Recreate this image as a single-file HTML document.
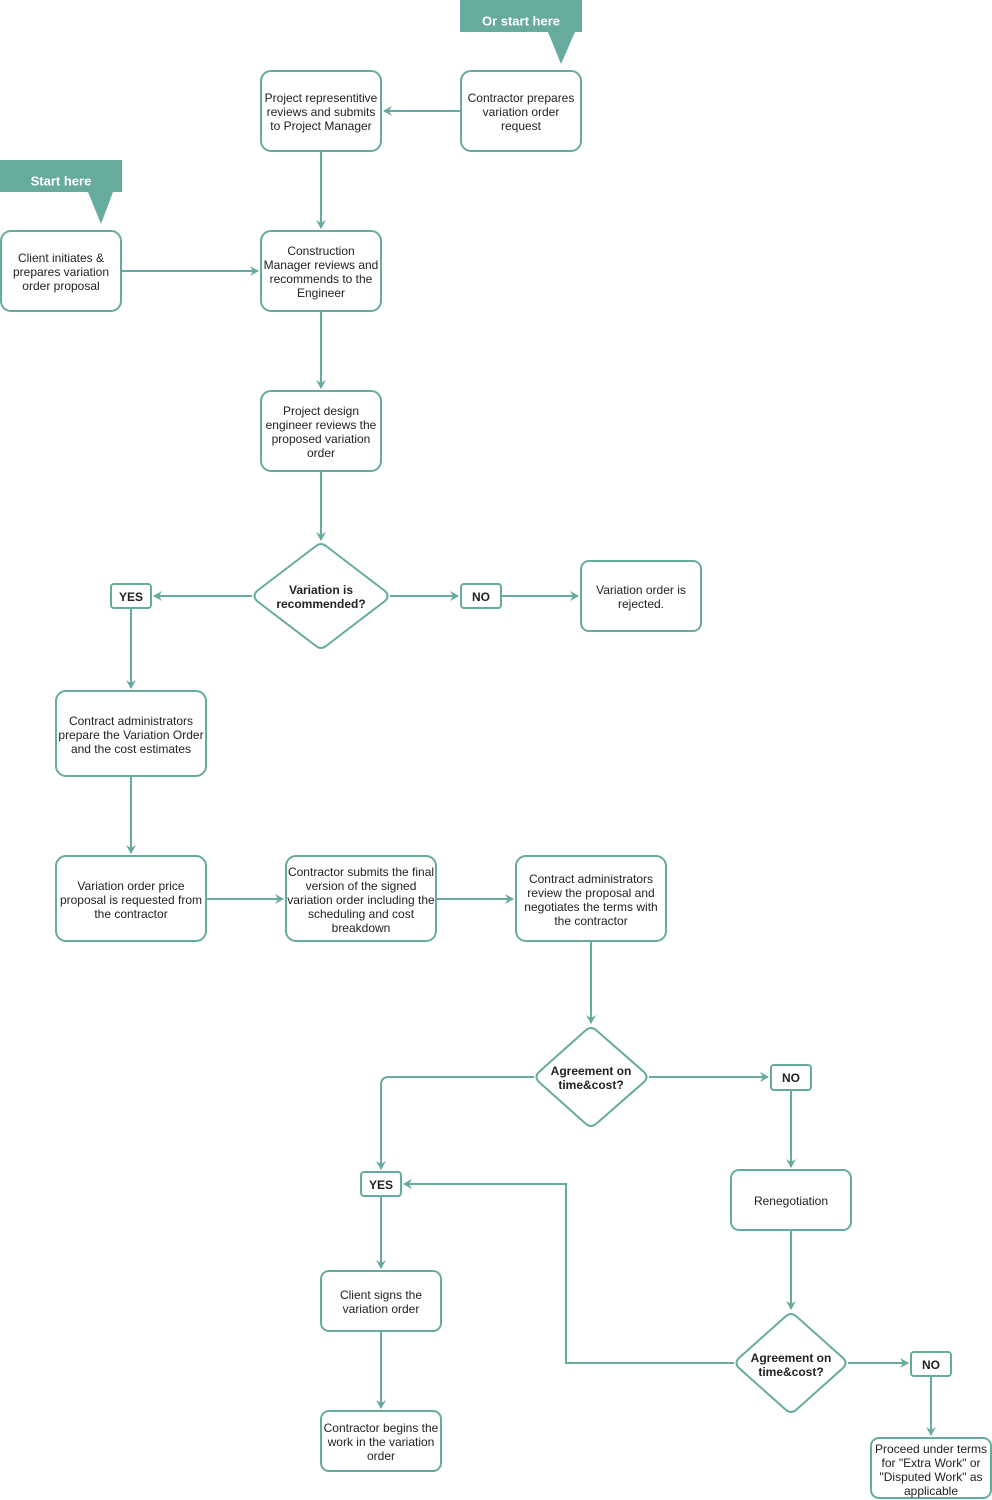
<!DOCTYPE html>
<html><head><meta charset="utf-8"><style>
html,body{margin:0;padding:0;background:#fff;}
svg{display:block;}
text{font-family:"Liberation Sans",Arial,sans-serif;font-size:12px;fill:#222;text-anchor:middle;dominant-baseline:central;}
.b{font-weight:bold;}
.n{fill:#fff;stroke:#67AB9F;stroke-width:2;}
.l{fill:none;stroke:#67AB9F;stroke-width:2;}
.c{fill:#67AB9F;}
.w{fill:#fff;font-weight:bold;font-size:13px;font-family:"Liberation Sans Narrow","Liberation Sans",sans-serif;}
</style></head><body>
<svg width="992" height="1500" viewBox="0 0 992 1500" xmlns="http://www.w3.org/2000/svg">
<defs><marker id="a" markerWidth="10" markerHeight="10" refX="8" refY="5" orient="auto" markerUnits="userSpaceOnUse"><path d="M0,0 L9,5 L0,10 L3,5 Z" fill="#67AB9F"/></marker></defs>

<!-- callouts -->
<path class="c" d="M460,0 H582 V32 H575 L561,64 L548,32 H460 Z"/>
<text class="w" x="521" y="21">Or start here</text>
<path class="c" d="M0,160 H122 V192 H113 L101,224 L88,192 H0 Z"/>
<text class="w" x="61" y="181">Start here</text>

<!-- connectors -->
<path class="l" d="M461,111 H384" marker-end="url(#a)"/>
<path class="l" d="M321,151 V228" marker-end="url(#a)"/>
<path class="l" d="M121,271 H258" marker-end="url(#a)"/>
<path class="l" d="M321,311 V388" marker-end="url(#a)"/>
<path class="l" d="M321,471 V540" marker-end="url(#a)"/>
<path class="l" d="M252,596 H154" marker-end="url(#a)"/>
<path class="l" d="M390,596 H458" marker-end="url(#a)"/>
<path class="l" d="M501,596 H578" marker-end="url(#a)"/>
<path class="l" d="M131,608 V688" marker-end="url(#a)"/>
<path class="l" d="M131,776 V853" marker-end="url(#a)"/>
<path class="l" d="M206,899 H283" marker-end="url(#a)"/>
<path class="l" d="M436,899 H513" marker-end="url(#a)"/>
<path class="l" d="M591,941 V1023" marker-end="url(#a)"/>
<path class="l" d="M649,1077 H768" marker-end="url(#a)"/>
<path class="l" d="M534,1077 H389 Q381,1077 381,1085 V1169" marker-end="url(#a)"/>
<path class="l" d="M791,1090 V1167" marker-end="url(#a)"/>
<path class="l" d="M791,1230 V1309" marker-end="url(#a)"/>
<path class="l" d="M734,1363 H566 V1184 H404" marker-end="url(#a)"/>
<path class="l" d="M848,1363 H908" marker-end="url(#a)"/>
<path class="l" d="M931,1376 V1435" marker-end="url(#a)"/>
<path class="l" d="M381,1196 V1268" marker-end="url(#a)"/>
<path class="l" d="M381,1331 V1408" marker-end="url(#a)"/>

<!-- boxes -->
<rect class="n" x="261" y="71" width="120" height="80" rx="10"/>
<text x="321" y="98">Project representitive</text><text x="321" y="112">reviews and submits</text><text x="321" y="126">to Project Manager</text>
<rect class="n" x="461" y="71" width="120" height="80" rx="10"/>
<text x="521" y="98">Contractor prepares</text><text x="521" y="112">variation order</text><text x="521" y="126">request</text>
<rect class="n" x="1" y="231" width="120" height="80" rx="10"/>
<text x="61" y="258">Client initiates &amp;</text><text x="61" y="272">prepares variation</text><text x="61" y="286">order proposal</text>
<rect class="n" x="261" y="231" width="120" height="80" rx="10"/>
<text x="321" y="251">Construction</text><text x="321" y="265">Manager reviews and</text><text x="321" y="279">recommends to the</text><text x="321" y="293">Engineer</text>
<rect class="n" x="261" y="391" width="120" height="80" rx="10"/>
<text x="321" y="411">Project design</text><text x="321" y="425">engineer reviews the</text><text x="321" y="439">proposed variation</text><text x="321" y="453">order</text>

<path class="n" d="M316,546 Q321,542 326,546 L385,591 Q390,596 385,601 L326,646 Q321,650 316,646 L257,601 Q252,596 257,591 Z"/>
<text class="b" x="321" y="590">Variation is</text><text class="b" x="321" y="604">recommended?</text>

<rect class="n" x="111" y="584" width="40" height="24" rx="3"/><text class="b" x="131" y="597">YES</text>
<rect class="n" x="461" y="584" width="40" height="24" rx="3"/><text class="b" x="481" y="597">NO</text>
<rect class="n" x="581" y="561" width="120" height="70" rx="8"/>
<text x="641" y="590">Variation order is</text><text x="641" y="604">rejected.</text>

<rect class="n" x="56" y="691" width="150" height="85" rx="10"/>
<text x="131" y="721">Contract administrators</text><text x="131" y="735">prepare the Variation Order</text><text x="131" y="749">and the cost estimates</text>
<rect class="n" x="56" y="856" width="150" height="85" rx="10"/>
<text x="131" y="886">Variation order price</text><text x="131" y="900">proposal is requested from</text><text x="131" y="914">the contractor</text>
<rect class="n" x="286" y="856" width="150" height="85" rx="10"/>
<text x="361" y="872">Contractor submits the final</text><text x="361" y="886">version of the signed</text><text x="361" y="900">variation order including the</text><text x="361" y="914">scheduling and cost</text><text x="361" y="928">breakdown</text>
<rect class="n" x="516" y="856" width="150" height="85" rx="10"/>
<text x="591" y="879">Contract administrators</text><text x="591" y="893">review the proposal and</text><text x="591" y="907">negotiates the terms with</text><text x="591" y="921">the contractor</text>

<path class="n" d="M586,1030 Q591,1026 596,1030 L644,1072 Q649,1077 644,1082 L596,1124 Q591,1128 586,1124 L539,1082 Q534,1077 539,1072 Z"/>
<text class="b" x="591" y="1071">Agreement on</text><text class="b" x="591" y="1085">time&amp;cost?</text>
<rect class="n" x="771" y="1065" width="40" height="25" rx="3"/><text class="b" x="791" y="1078">NO</text>
<rect class="n" x="361" y="1172" width="40" height="24" rx="3"/><text class="b" x="381" y="1185">YES</text>
<rect class="n" x="731" y="1170" width="120" height="60" rx="8"/><text x="791" y="1201">Renegotiation</text>

<path class="n" d="M786,1316 Q791,1312 796,1316 L843,1358 Q848,1363 843,1368 L796,1410 Q791,1414 786,1410 L739,1368 Q734,1363 739,1358 Z"/>
<text class="b" x="791" y="1358">Agreement on</text><text class="b" x="791" y="1372">time&amp;cost?</text>
<rect class="n" x="911" y="1352" width="40" height="24" rx="3"/><text class="b" x="931" y="1365">NO</text>
<rect class="n" x="871" y="1438" width="120" height="60" rx="8"/>
<text x="931" y="1449">Proceed under terms</text><text x="931" y="1463">for "Extra Work" or</text><text x="931" y="1477">"Disputed Work" as</text><text x="931" y="1491">applicable</text>

<rect class="n" x="321" y="1271" width="120" height="60" rx="8"/>
<text x="381" y="1295">Client signs the</text><text x="381" y="1309">variation order</text>
<rect class="n" x="321" y="1411" width="120" height="60" rx="8"/>
<text x="381" y="1428">Contractor begins the</text><text x="381" y="1442">work in the variation</text><text x="381" y="1456">order</text>
</svg>
</body></html>
